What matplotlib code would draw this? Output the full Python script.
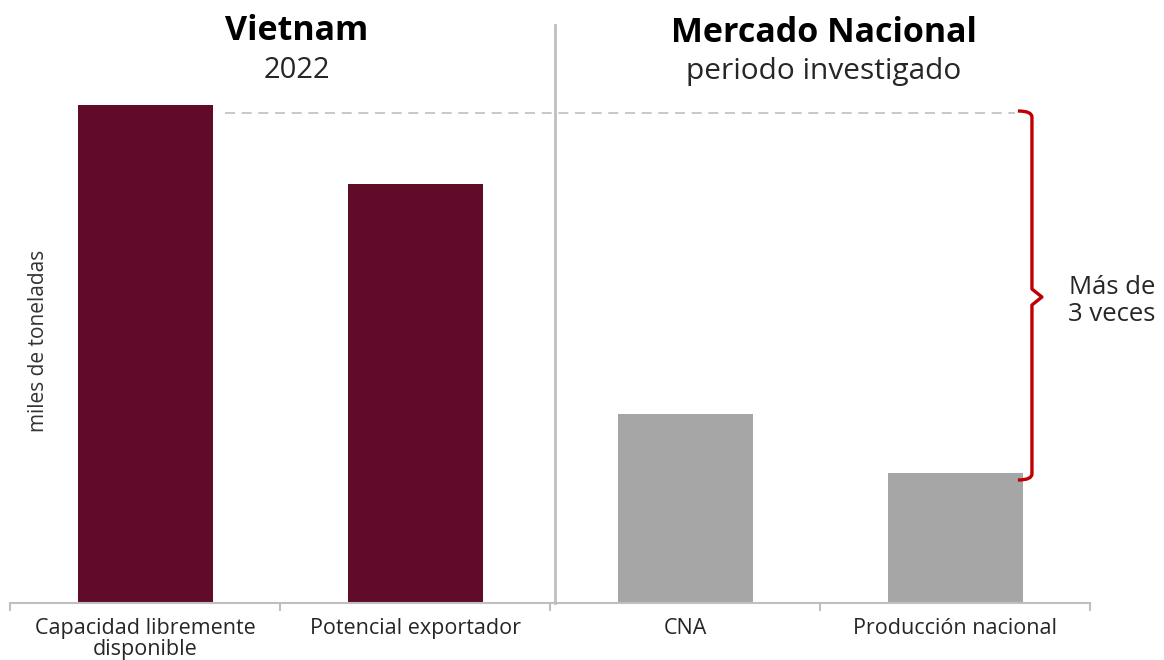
import matplotlib.pyplot as plt
from matplotlib.path import Path
from matplotlib.patches import PathPatch

# valores estimados (miles de toneladas, escala relativa)
categorias = ['Capacidad libremente\ndisponible', 'Potencial exportador', 'CNA', 'Producción nacional']
valores = [498, 419, 189, 130]
colores = ['#610B2B', '#610B2B', '#A6A6A6', '#A6A6A6']
nivel_ref = 490      # linea punteada de referencia
nivel_min = 125      # fin de la llave

plt.rcParams['font.family'] = ['Open Sans', 'DejaVu Sans']

fig = plt.figure(figsize=(11.64, 6.6), dpi=100)
ax = fig.add_axes([10 / 1164, 57 / 660, 1080 / 1164, 590 / 660])

x = range(len(valores))
ax.bar(x, valores, width=0.5, color=colores, zorder=2)

ax.set_xlim(-0.5, 3.5)
ax.set_ylim(0, 590)

for s in ['top', 'right', 'left']:
    ax.spines[s].set_visible(False)
ax.spines['bottom'].set_color('#BFBFBF')
ax.spines['bottom'].set_linewidth(1.5)
ax.set_yticks([])

# ticks en los limites de categoria, etiquetas en el centro
ax.set_xticks([-0.5, 0.5, 1.5, 2.5, 3.5])
ax.set_xticklabels([])
ax.tick_params(axis='x', which='major', length=6, width=1.5, color='#BFBFBF', direction='out')
ax.set_xticks(list(x), minor=True)
ax.set_xticklabels(categorias, minor=True, fontsize=15.5, color='#262626', linespacing=0.97)
ax.tick_params(axis='x', which='minor', length=0, pad=11)

ax.text(0.026, 0.444, 'miles de toneladas', transform=ax.transAxes, rotation=90,
        ha='center', va='center', fontsize=15, color='#333333')

# separador vertical
ax.plot([1.52, 1.52], [0, 578], color='#BFBFBF', lw=2, clip_on=False, zorder=1)

# linea punteada
ax.plot([0.296, 3.222], [nivel_ref, nivel_ref], color='#BFBFBF', lw=1.2,
        dashes=(6, 4), zorder=1)

# llave roja
xv, xl, xt = 3.285, 3.233, 3.322
ym = 306
verts = [(xl, nivel_ref + 2), (xv, nivel_ref + 2), (xv, nivel_ref - 4),
         (xv, ym + 14), (xv, ym + 8), (xt, ym),
         (xv, ym - 8), (xv, ym - 14),
         (xv, nivel_min + 4), (xv, nivel_min - 2), (xl, nivel_min - 2)]
codes = [Path.MOVETO, Path.CURVE3, Path.CURVE3,
         Path.LINETO, Path.LINETO, Path.LINETO,
         Path.LINETO, Path.LINETO,
         Path.LINETO, Path.CURVE3, Path.CURVE3]
ax.add_patch(PathPatch(Path(verts, codes), fill=False, edgecolor='#C00000',
                       lw=2.4, joinstyle='round', capstyle='butt', zorder=3))

fig.text(1112 / 1164, 1 - 301 / 660, 'Más de\n3 veces', ha='center', va='center',
         fontsize=18.5, color='#262626', linespacing=1.15)

# titulos
fig.text(297 / 1164, 1 - 31 / 660, 'Vietnam', ha='center', va='center',
         fontsize=24.5, fontweight='bold', color='black')
fig.text(297 / 1164, 1 - 70 / 660, '2022', ha='center', va='center',
         fontsize=21, color='#262626')
fig.text(824 / 1164, 1 - 33 / 660, 'Mercado Nacional', ha='center', va='center',
         fontsize=24.5, fontweight='bold', color='black')
fig.text(824 / 1164, 1 - 72 / 660, 'periodo investigado', ha='center', va='center',
         fontsize=21.5, color='#262626')

fig.savefig('out.png', dpi=100)
